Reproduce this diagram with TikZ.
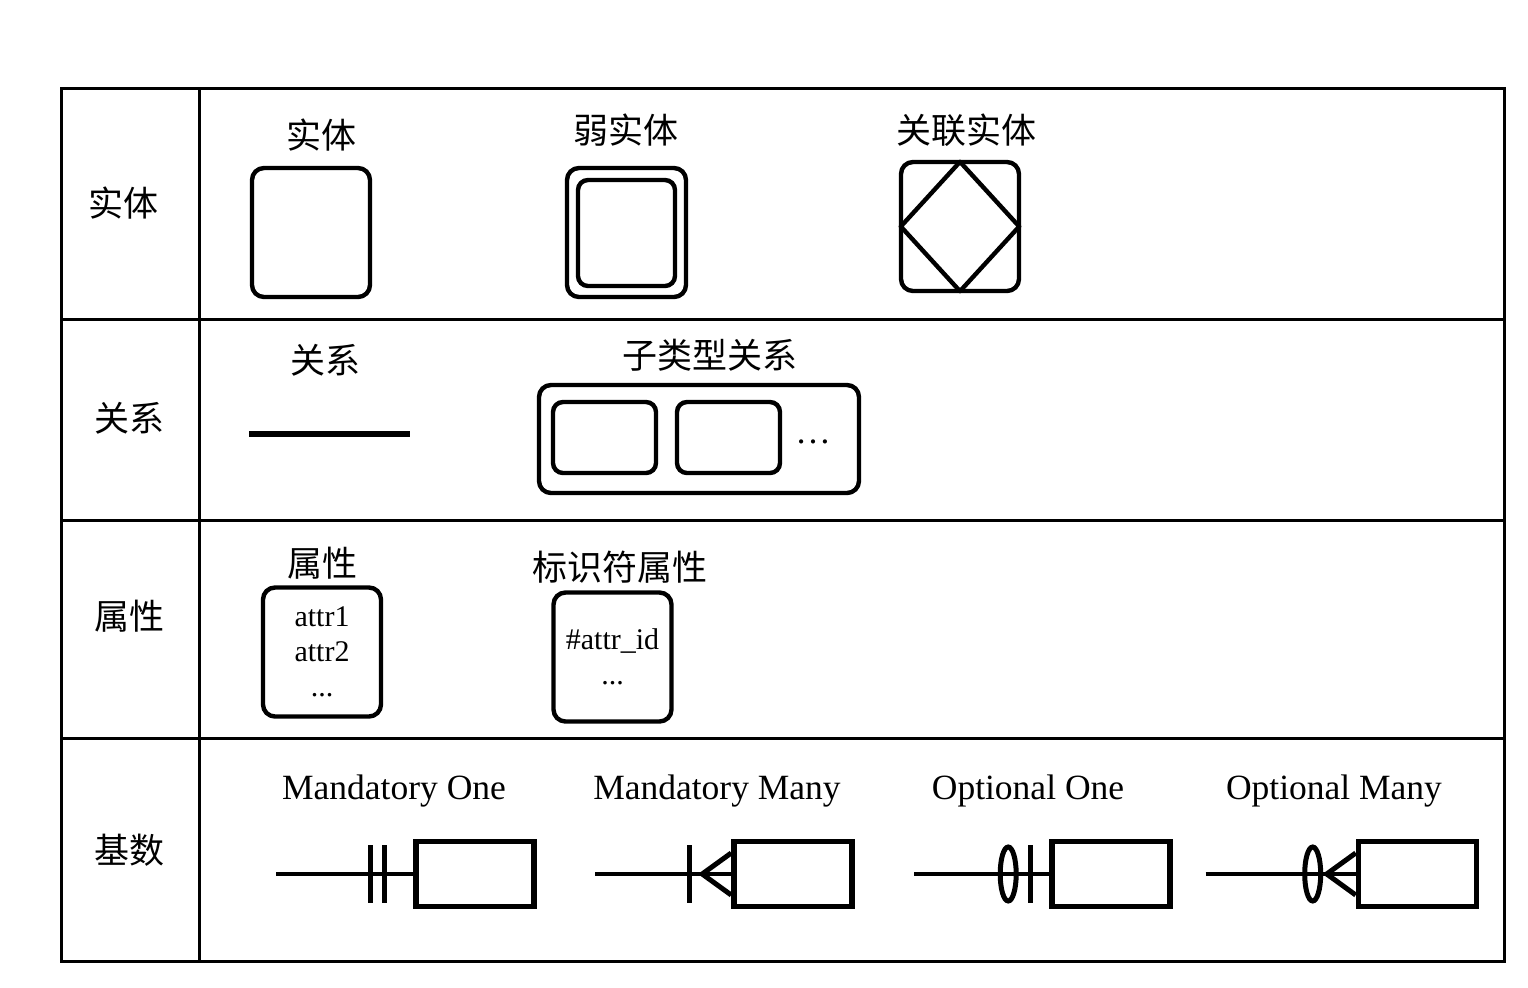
\documentclass[tikz,border=0pt]{standalone}
\usepackage{fontspec}
\setmainfont{Liberation Serif}
\newfontfamily\cjk{Noto Sans CJK SC}
\usetikzlibrary{calc}

\begin{document}
\begin{tikzpicture}[x = 0.5pt, y = -0.5pt,
	cn/.style = {font = \cjk\fontsize{17.5}{20}\selectfont, inner sep = 0pt},
	en/.style = {font = \fontsize{17.75}{20}\selectfont, inner sep = 0pt},
	ebox/.style = {draw, line width = 2.2pt, rounded corners = 6pt, inner sep = 0pt,
		minimum width = 59pt, minimum height = 64.5pt},
	abox/.style = {ebox, align = center, font = \fontsize{15}{17.5}\selectfont},
	sbox/.style = {draw, line width = 2.2pt, rounded corners = 5pt, inner sep = 0pt,
		minimum width = 51.5pt, minimum height = 35.5pt},
	cbox/.style = {draw, line width = 2.8pt, inner sep = 0pt,
		minimum width = 59pt, minimum height = 32.5pt},
	link/.style = {line width = 1.8pt},
	tick/.style = {line width = 2.5pt}]

	% Frame

	\useasboundingbox (0, 0) rectangle (1528, 987);

	\draw [line width = 1.5pt] (61, 88) rectangle (1504, 961);
	\draw [line width = 1.5pt] (199, 88) -- (199, 961);
	\foreach \y in {319, 520, 738}
		\draw [line width = 1.5pt] (61, \y) -- (1504, \y);

	% Row labels

	\node [cn] (lEnt) at (123, 203) {实体};
	\node [cn] (lRel) at (129, 418) {关系};
	\node [cn] (lAttr) at (129, 616) {属性};
	\node [cn] (lCard) at (129, 850) {基数};

	% Entities

	\node [cn] (tEnt) at (321, 135) {实体};
	\node [ebox] (ent) at (311, 232.5) {};

	\node [cn] (tWeak) at (626, 130) {弱实体};
	\node [ebox, minimum width = 59.5pt] (weak) at (626.5, 232.5) {};
	\node [ebox, rounded corners = 5pt, minimum width = 48.5pt, minimum height = 53pt] (weakIn) at (626.5, 233) {};

	\node [cn] (tAssoc) at (966, 130) {关联实体};
	\node [ebox] (assoc) at (960, 226.5) {};
	\draw [line width = 2.2pt, line join = round] ($(assoc.north) + (0, 2)$) -- ($(assoc.east) + (-2, 0)$)
		-- ($(assoc.south) + (0, -2)$) -- ($(assoc.west) + (2, 0)$) -- cycle;

	% Relationships

	\node [cn] (tRel) at (325, 360) {关系};
	\coordinate (rel1) at (249, 434);
	\coordinate (rel2) at (410, 434);
	\draw [line width = 3pt] (rel1) -- (rel2);

	\node [cn] (tSub) at (710, 355) {子类型关系};
	\node [ebox, minimum width = 160pt, minimum height = 54pt] (sub) at (699, 439) {};
	\node [sbox] (sub1) at (604.5, 437.5) {};
	\node [sbox] (sub2) at (728.5, 437.5) {};
	\node [en] (subDots) at (813, 442) {…};

	% Attributes

	\node [cn] (tAttr) at (322, 563) {属性};
	\node [abox] (attr) at (322, 652) {attr1\\attr2\\...};

	\node [cn] (tId) at (620, 567) {标识符属性};
	\node [abox] (id) at (612.5, 657) {\#attr\_id\\...};

	% Cardinality

	\node [en] (tMO) at (394, 791) {Mandatory One};
	\node [en] (tMM) at (717, 791) {Mandatory Many};
	\node [en] (tOO) at (1028, 791) {Optional One};
	\node [en] (tOM) at (1334, 791) {Optional Many};

	\node [cbox] (mo) at (475, 874) {};
	\node [cbox] (mm) at (793, 874) {};
	\node [cbox] (oo) at (1111, 874) {};
	\node [cbox] (om) at (1417.5, 874) {};

	\coordinate (mo0) at ($(mo.west) + (-137, 0)$);
	\coordinate (mm0) at ($(mm.west) + (-136, 0)$);
	\coordinate (oo0) at ($(oo.west) + (-135, 0)$);
	\coordinate (om0) at ($(om.west) + (-150, 0)$);

	\foreach \c in {mo, mm, oo, om}
		\draw [link] (\c0) -- (\c.west);

	% mandatory one: two bars
	\foreach \dx in {-43, -29}
		\draw [tick] ($(mo.west) + (\dx, -29)$) -- ($(mo.west) + (\dx, 29)$);

	% mandatory many: bar and crow's foot
	\draw [tick] ($(mm.west) + (-42, -29)$) -- ($(mm.west) + (-42, 29)$);
	\draw [tick] ($(mm.west) + (0, -21)$) -- ($(mm.west) + (-29, 0)$) -- ($(mm.west) + (0, 21)$);

	% optional one: ring and bar
	\draw [tick] ($(oo.west) + (-41, 0)$) ellipse [x radius = 4pt, y radius = 13.5pt];
	\draw [tick] ($(oo.west) + (-19, -29)$) -- ($(oo.west) + (-19, 29)$);

	% optional many: ring and crow's foot
	\draw [tick] ($(om.west) + (-43, 0)$) ellipse [x radius = 4pt, y radius = 13.5pt];
	\draw [tick] ($(om.west) + (0, -21)$) -- ($(om.west) + (-29, 0)$) -- ($(om.west) + (0, 21)$);

\end{tikzpicture}
\end{document}
